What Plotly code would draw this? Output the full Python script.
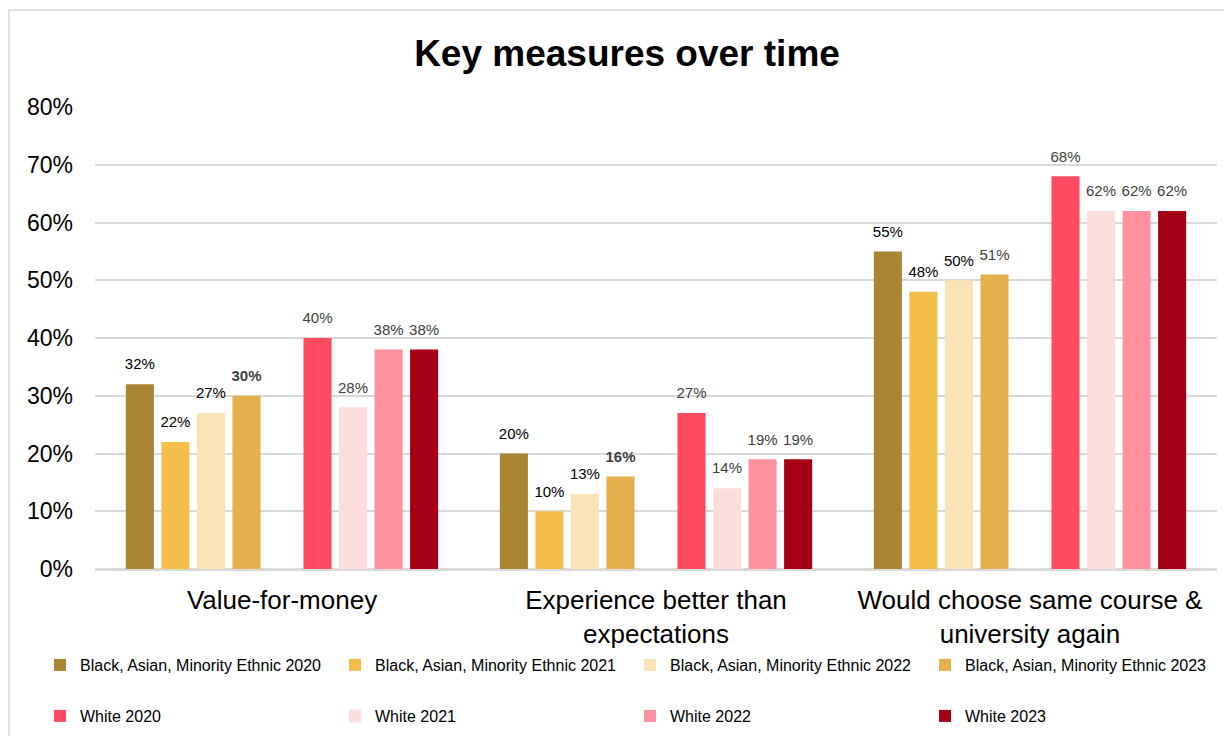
import plotly.graph_objects as go

categories = ["Value-for-money", "Experience better than<br>expectations",
              "Would choose same course &<br>university again"]

series_names = [
    "Black, Asian, Minority Ethnic 2020",
    "Black, Asian, Minority Ethnic 2021",
    "Black, Asian, Minority Ethnic 2022",
    "Black, Asian, Minority Ethnic 2023",
    "White 2020",
    "White 2021",
    "White 2022",
    "White 2023",
]
bame_2020 = [32, 20, 55]
bame_2021 = [22, 10, 48]
bame_2022 = [27, 13, 50]
bame_2023 = [30, 16, 51]
white_2020 = [40, 27, 68]
white_2021 = [28, 14, 62]
white_2022 = [38, 19, 62]
white_2023 = [38, 19, 62]
series_values = [bame_2020, bame_2021, bame_2022, bame_2023,
                 white_2020, white_2021, white_2022, white_2023]

colors = ["#A88532", "#F4BE4A", "#FAE3B4", "#E3B04B",
          "#FF4B5F", "#FBDEDC", "#FF929F", "#A50016"]

# label styling per series (colour) and per point (bold)
label_colors = ["#000000", "#000000", "#000000", "#404040",
                "#404040", "#404040", "#404040", "#404040"]
label_bold = [[False] * 3, [False] * 3, [False] * 3, [True, True, False],
              [False] * 3, [False] * 3, [False] * 3, [False] * 3]

FONT = "Arial, Liberation Sans, sans-serif"
BARGAP = 0.145
GROUPGAP = 0.21

fig = go.Figure()

order = [0, 1, 2, 3, None, 4, 5, 6, 7]  # None = spacer between the two groups
for slot, idx in enumerate(order):
    if idx is None:
        fig.add_trace(go.Bar(x=categories, y=[0, 0, 0], marker_color="rgba(0,0,0,0)",
                             showlegend=False, hoverinfo="skip"))
        fig.add_trace(go.Scatter(x=categories, y=[0, 0, 0], mode="none",
                                 showlegend=False, hoverinfo="skip"))
        continue
    vals = series_values[idx]
    fig.add_trace(go.Bar(
        x=categories, y=vals, name=series_names[idx],
        marker=dict(color=colors[idx], line=dict(width=0)),
        legend="legend" if idx < 4 else "legend2",
    ))
    texts = [f"<b>{v}%</b>" if b else f"{v}%" for v, b in zip(vals, label_bold[idx])]
    fig.add_trace(go.Scatter(
        x=categories, y=vals, mode="markers+text", text=texts,
        textposition="top center",
        textfont=dict(family=FONT, size=15, color=label_colors[idx]),
        marker=dict(size=16, opacity=0),
        showlegend=False, hoverinfo="skip",
    ))

# page offset (the browser page adds an 8px margin around the figure)
OFF = 8
W, H = 1232 - OFF, 736 - OFF
# plot area in screen pixels of the reference
L, R, T, B = 95 - OFF, 1217 - OFF, 107 - OFF, 569 - OFF
pw, ph = R - L, B - T

def px_x(x):
    return (x - OFF - L) / pw

def px_y(y):
    return (B - (y - OFF)) / ph

fig.update_layout(
    width=W, height=H,
    margin=dict(l=L, r=W - R, t=T, b=H - B, autoexpand=False),
    paper_bgcolor="white", plot_bgcolor="white",
    barmode="group", bargap=BARGAP, bargroupgap=GROUPGAP,
    scattermode="group", scattergap=BARGAP,
    font=dict(family=FONT, color="#000000"),
    title=dict(text="<b>Key measures over time</b>", x=(627 - OFF) / W, xanchor="center",
               y=1 - (53 - OFF) / H, yanchor="middle",
               font=dict(family=FONT, size=37, color="#000000")),
    xaxis=dict(showgrid=False, showline=True, linecolor="#D9D9D9", linewidth=1.5,
               ticks="", tickfont=dict(size=26, color="#000000"),
               ticklabelstandoff=7),
    yaxis=dict(range=[0, 80], dtick=10, ticksuffix="%", showgrid=True,
               gridcolor="#D9D9D9", gridwidth=1.5, zeroline=True,
               zerolinecolor="#D9D9D9", zerolinewidth=1.5, showline=False,
               tickfont=dict(size=23, color="#000000"), ticklabelstandoff=21),
    legend=dict(orientation="h", x=px_x(40), xanchor="left", y=px_y(665),
                yanchor="middle", entrywidth=250, entrywidthmode="pixels",
                itemwidth=30, font=dict(family=FONT, size=16, color="#000000"),
                bgcolor="rgba(0,0,0,0)"),
    legend2=dict(orientation="h", x=px_x(40), xanchor="left", y=px_y(716),
                 yanchor="middle", entrywidth=250, entrywidthmode="pixels",
                 itemwidth=30, font=dict(family=FONT, size=16, color="#000000"),
                 bgcolor="rgba(0,0,0,0)"),
    shapes=[dict(type="rect", xref="paper", yref="paper",
                 x0=px_x(9), x1=px_x(1250), y0=px_y(760), y1=px_y(10),
                 line=dict(color="#D9D9D9", width=1.5), fillcolor="rgba(0,0,0,0)",
                 layer="below")],
    hovermode=False,
)

fig.write_html("out.html")
